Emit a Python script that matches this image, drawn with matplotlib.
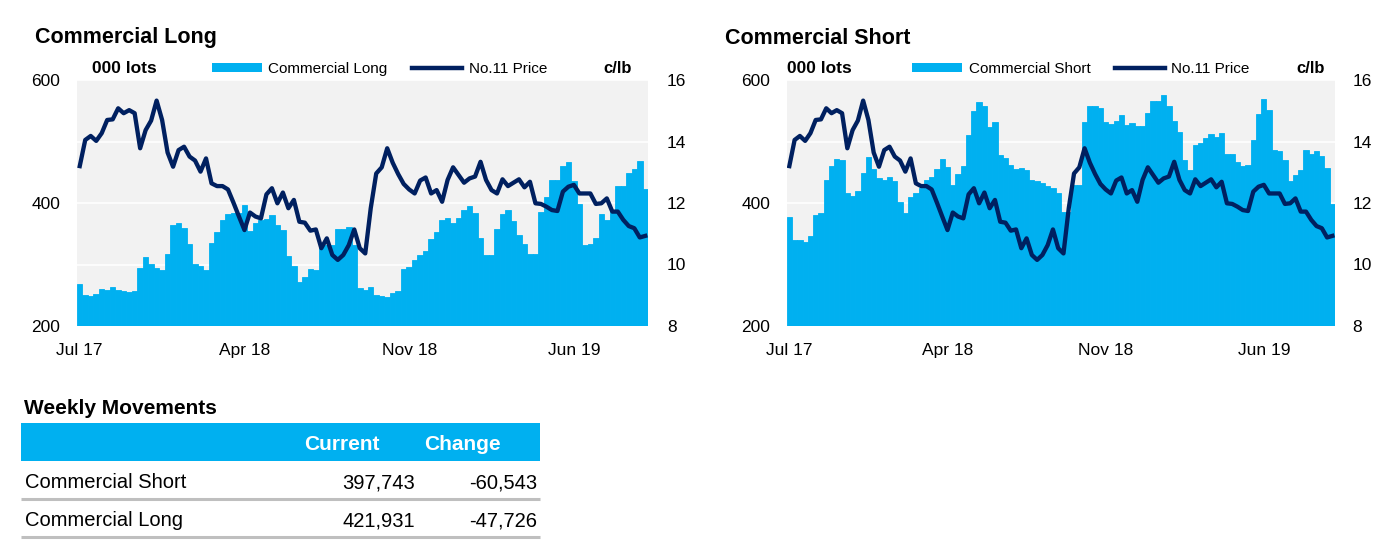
import matplotlib
matplotlib.use("Agg")
import matplotlib.pyplot as plt
from matplotlib.patches import Rectangle, Patch
from matplotlib.lines import Line2D
from matplotlib.ticker import FixedLocator

plt.rcParams['font.family'] = ['Liberation Sans', 'DejaVu Sans']

# weekly data, Jul 2017 - Oct 2019 (000 lots / c/lb)
x_labels = ["Jul 17", "Apr 18", "Nov 18", "Jun 19"]
x_label_every = 30

long_lots = [268, 250, 249, 252, 260, 258, 263, 258, 257, 255,
             257, 295, 313, 301, 294, 291, 317, 364, 368, 359,
             334, 301, 298, 291, 335, 353, 372, 382, 384, 383,
             396, 355, 367, 372, 374, 380, 364, 356, 314, 298,
             272, 279, 293, 291, 332, 332, 332, 358, 358, 361,
             332, 261, 258, 264, 250, 249, 247, 253, 257, 292,
             296, 308, 315, 322, 342, 353, 372, 375, 368, 375,
             388, 395, 383, 343, 315, 315, 357, 382, 389, 370,
             348, 333, 317, 317, 386, 410, 438, 438, 460, 466,
             436, 399, 332, 334, 343, 382, 373, 386, 427, 427,
             449, 455, 469, 422]

short_lots = [378, 340, 340, 336, 346, 380, 384, 438, 460, 472,
              470, 416, 412, 420, 449, 475, 455, 441, 437, 442,
              435, 402, 383, 409, 417, 425, 438, 443, 455, 471,
              458, 429, 447, 460, 511, 550, 565, 558, 523, 532,
              478, 473, 462, 455, 457, 453, 438, 435, 433, 428,
              425, 417, 386, 386, 429, 429, 532, 557, 557, 554,
              532, 528, 534, 543, 527, 530, 525, 525, 547, 566,
              566, 576, 558, 534, 516, 470, 453, 494, 498, 505,
              512, 507, 514, 480, 480, 467, 460, 462, 502, 544,
              569, 551, 486, 485, 470, 435, 446, 453, 486, 480,
              485, 476, 457, 398]

price = [13.20, 14.05, 14.18, 14.02, 14.27, 14.70, 14.72, 15.08, 14.92, 15.02,
         14.92, 13.78, 14.37, 14.68, 15.33, 14.70, 13.64, 13.18, 13.72, 13.83,
         13.51, 13.38, 13.02, 13.45, 12.64, 12.55, 12.55, 12.44, 12.01, 11.56,
         11.12, 11.69, 11.56, 11.50, 12.28, 12.48, 11.99, 12.34, 11.83, 12.10,
         11.39, 11.36, 11.10, 11.14, 10.53, 10.85, 10.31, 10.15, 10.31, 10.63,
         11.14, 10.53, 10.36, 11.83, 12.96, 13.16, 13.78, 13.31, 12.94, 12.62,
         12.44, 12.31, 12.73, 12.83, 12.31, 12.42, 12.04, 12.75, 13.16, 12.91,
         12.66, 12.80, 12.86, 13.34, 12.75, 12.42, 12.31, 12.77, 12.55, 12.66,
         12.77, 12.51, 12.69, 11.99, 11.97, 11.88, 11.77, 11.74, 12.37, 12.53,
         12.59, 12.31, 12.31, 12.31, 11.97, 11.99, 12.15, 11.72, 11.72, 11.45,
         11.25, 11.18, 10.88, 10.93]

table_title = "Weekly Movements"
table_cols = ["Current", "Change"]
table_rows = ["Commercial Short", "Commercial Long"]
table_current = ["397,743", "421,931"]
table_change = ["-60,543", "-47,726"]

BLUE = "#00B0F0"
NAVY = "#002060"
GRID_BG = "#F2F2F2"
W, H = 1388, 555

fig = plt.figure(figsize=(W / 100, H / 100), dpi=100)


def px_rect(x0, y0, x1, y1):
    return [x0 / W, 1 - y1 / H, (x1 - x0) / W, (y1 - y0) / H]


def draw_panel(rect, bars, bar_label, lots_x, legend_x, unit_x, rpad):
    ax = fig.add_axes(rect)
    idx = list(range(len(bars)))
    ax.set_facecolor(GRID_BG)
    # edge in the same colour hides the antialiasing seams between bars
    ax.bar(idx, bars, width=1.0, color=BLUE, edgecolor=BLUE, linewidth=0.6, zorder=2)
    ax.set_xlim(-0.5, len(bars) - 0.5)
    ax.set_ylim(200, 600)
    ax.set_yticks([200, 400, 600])
    ax.yaxis.set_minor_locator(FixedLocator([300, 500]))
    ax.grid(axis='y', which='both', color='white', linewidth=1.2, zorder=1)
    ax.set_axisbelow(True)
    ax.set_xticks(idx[::x_label_every])
    ax.set_xticklabels(x_labels)
    ax.tick_params(axis='both', which='both', length=0, labelsize=12.5)
    ax.tick_params(axis='y', pad=12)
    ax.tick_params(axis='x', pad=12)
    for s in ax.spines.values():
        s.set_visible(False)

    ax2 = ax.twinx()
    ax2.plot(idx, price, color=NAVY, linewidth=3.1, solid_joinstyle='round', zorder=3)
    ax2.set_ylim(8, 16)
    ax2.set_yticks([8, 10, 12, 14, 16])
    ax2.tick_params(axis='y', length=0, labelsize=12.5, pad=rpad)
    for s in ax2.spines.values():
        s.set_visible(False)

    ax2.text(lots_x, 1.045, "000 lots", transform=ax.transAxes, fontsize=12.5,
             fontweight='bold', ha='left', va='center')
    ax2.text(unit_x, 1.045, "c/lb", transform=ax.transAxes, fontsize=12,
             fontweight='bold', ha='right', va='center')
    handles = [Patch(facecolor=BLUE, edgecolor='none'),
               Line2D([], [], color=NAVY, linewidth=3.2)]
    ax2.legend(handles, [bar_label, "No.11 Price"], ncol=2, loc='center left',
               bbox_to_anchor=(legend_x, 1.045), frameon=False, fontsize=11,
               handlelength=3.3, handleheight=0.55, handletextpad=0.4,
               columnspacing=1.6, borderpad=0, borderaxespad=0)
    return ax


draw_panel(px_rect(77, 80, 648, 326), long_lots, "Commercial Long",
           0.026, 0.236, 0.972, 13.5)
draw_panel(px_rect(786.7, 80, 1335, 326), short_lots, "Commercial Short",
           0.0, 0.2285, 0.982, 12.5)

# overlay axes in pixel coordinates for titles and the table
ov = fig.add_axes([0, 0, 1, 1], zorder=-1)
ov.set_xlim(0, W)
ov.set_ylim(H, 0)
ov.axis('off')

ov.text(35, 38, "Commercial Long", fontsize=15.5, fontweight='bold', va='center')
ov.text(725, 38, "Commercial Short", fontsize=15.5, fontweight='bold', va='center')

ov.text(24, 408, table_title, fontsize=15, fontweight='bold', va='center')
ov.add_patch(Rectangle((21, 423), 519, 38, facecolor=BLUE, edgecolor='none'))
ov.text(342, 445, table_cols[0], fontsize=15, fontweight='bold', color='white',
        ha='center', va='center')
ov.text(462, 445, table_cols[1], fontsize=15, fontweight='bold', color='white',
        ha='center', va='center')

row_y = [483, 521]
for name, cur, chg, y in zip(table_rows, table_current, table_change, row_y):
    ov.text(25, y, name, fontsize=14.5, va='center')
    ov.text(415, y, cur, fontsize=14.5, va='center', ha='right')
    ov.text(537, y, chg, fontsize=14.5, va='center', ha='right')
    ov.plot([21, 540], [y + 16, y + 16], color='#BFBFBF', linewidth=2.2,
            solid_capstyle='butt')

fig.savefig("out.png", dpi=100)
